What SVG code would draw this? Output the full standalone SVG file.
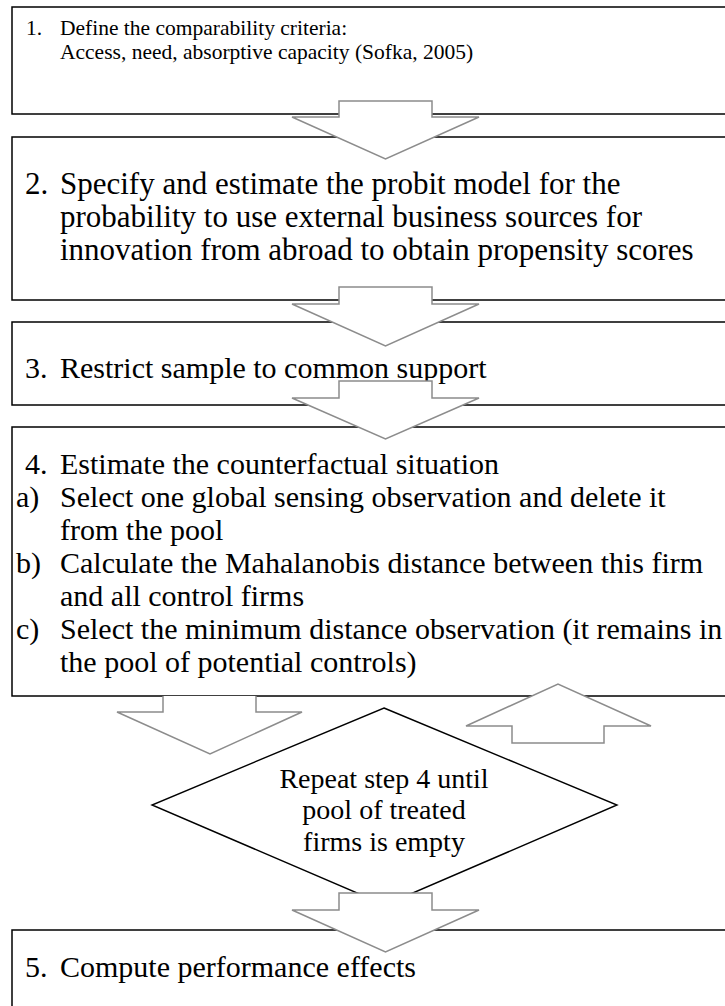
<svg xmlns="http://www.w3.org/2000/svg" width="725" height="1006" viewBox="0 0 725 1006">
<style>
.box{fill:#fff;stroke:#000;stroke-width:1.5}
.arr{fill:#fff;stroke:#8c8c8c;stroke-width:1.5;stroke-linejoin:miter}
.dia{fill:#fff;stroke:#000;stroke-width:1.4}
text{font-family:"Liberation Serif","Times New Roman",serif;fill:#000}
.s1{font-size:21.5px}
.s2{font-size:31px}
.s3{font-size:30px}
.s4{font-size:28px;text-anchor:middle}
</style>
<rect width="725" height="1006" fill="#fff"/>
<g id="n1" class="s1"><rect class="box" x="12" y="7" width="730" height="107"/>
<text x="26" y="35">1.</text><text x="60" y="35">Define the comparability criteria:</text>
<text x="60" y="59">Access, need, absorptive capacity (Sofka, 2005)</text></g>
<g id="n2" class="s2"><rect class="box" x="12" y="137" width="730" height="163"/>
<text x="25" y="194">2.</text><text x="60" y="194">Specify and estimate the probit model for the</text>
<text x="60" y="227">probability to use external business sources for</text>
<text x="60" y="260">innovation from abroad to obtain propensity scores</text></g>
<g id="n3" class="s3"><rect class="box" x="12" y="322" width="730" height="83"/>
<text x="25" y="378">3.</text><text x="60" y="378">Restrict sample to common support</text></g>
<g id="n4" class="s3"><rect class="box" x="12" y="427" width="730" height="269"/>
<text x="25" y="474">4.</text><text x="60" y="474">Estimate the counterfactual situation</text>
<text x="16" y="507">a)</text><text x="60" y="507">Select one global sensing observation and delete it</text>
<text x="60" y="540">from the pool</text>
<text x="16" y="573">b)</text><text x="60" y="573">Calculate the Mahalanobis distance between this firm</text>
<text x="60" y="606">and all control firms</text>
<text x="16" y="639">c)</text><text x="60" y="639">Select the minimum distance observation (it remains in</text>
<text x="60" y="672">the pool of potential controls)</text></g>
<g id="n5" class="s3"><rect class="box" x="12" y="930" width="730" height="100"/>
<text x="25" y="977">5.</text><text x="60" y="977">Compute performance effects</text></g>
<g id="decision" class="s4"><polygon class="dia" points="384,708 617,805 385,905 152,805"/>
<text x="384" y="788">Repeat step 4 until</text>
<text x="384" y="819">pool of treated</text>
<text x="384" y="851">firms is empty</text></g>
<g id="connectors">
<path class="arr" d="M339,101 H432 V117 H479 L385.5,159 L292,117 H339 Z"/>
<path class="arr" d="M339,287 H432 V304 H479 L385.5,346 L292,304 H339 Z"/>
<path class="arr" d="M339,381 H432 V398 H479 L385.5,439 L292,398 H339 Z"/>
<path class="arr" d="M256,696 V712 H302 L210,754 L117,712 H163 V696"/>
<path class="arr" d="M512,743 H604 V726 H651 L558,684 L466,726 H512 Z"/>
<path class="arr" d="M339,893 H432 V910 H479 L385.5,952 L292,910 H339 Z"/>
</g>
</svg>
